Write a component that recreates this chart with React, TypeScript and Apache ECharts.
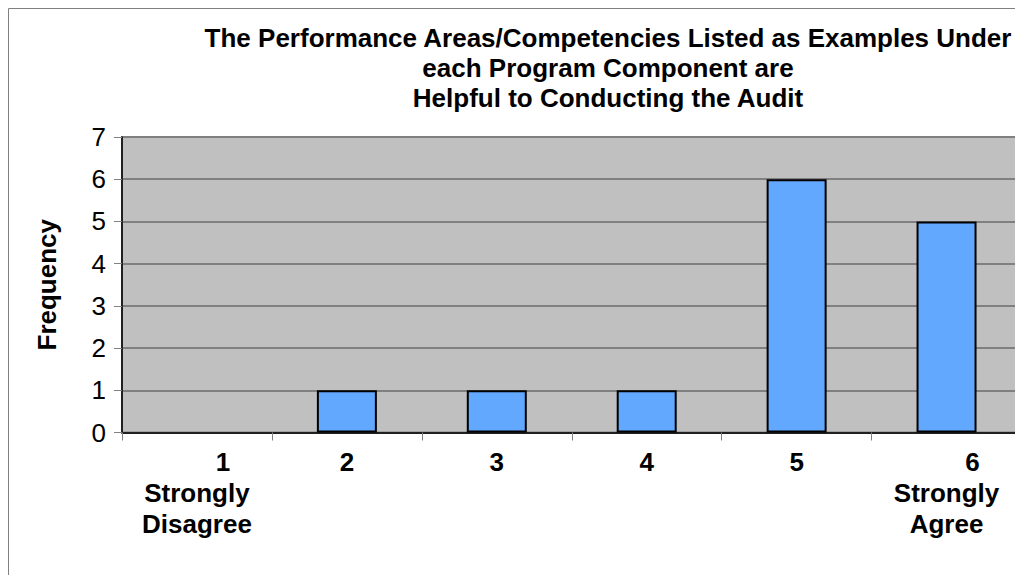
import React, { useEffect, useRef } from "react";
import * as echarts from "echarts";

const categories = ["1", "2", "3", "4", "5", "6"];
const subLabels = ["Strongly\nDisagree", "", "", "", "", "Strongly\nAgree"];
const frequency = [0, 1, 1, 1, 6, 5];
const titleLines = [
  "The Performance Areas/Competencies Listed as Examples Under",
  "each Program Component are",
  "Helpful to Conducting the Audit",
];
const yAxisName = "Frequency";

const FONT = "'Liberation Sans', Arial, sans-serif";

export default function App() {
  const ref = useRef<HTMLDivElement>(null);
  useEffect(() => {
    if (!ref.current) return;
    const chart = echarts.init(ref.current, undefined, { renderer: "svg" });
    chart.setOption({
      animation: false,
      backgroundColor: "#ffffff",
      textStyle: { fontFamily: FONT },
      title: {
        text: titleLines.join("\n"),
        left: 600,
        top: 15,
        textAlign: "center",
        padding: 0,
        textStyle: {
          fontFamily: FONT,
          fontWeight: "bold",
          fontSize: 26,
          lineHeight: 30,
          color: "#000",
        },
      },
      graphic: [
        {
          type: "rect",
          shape: { x: 0.5, y: 0.5, width: 1200, height: 800 },
          style: { fill: "none", stroke: "#808080", lineWidth: 1 },
          silent: true,
          z: 100,
        },
      ],
      grid: {
        left: 114,
        top: 129,
        right: 1.5,
        bottom: 142.5,
        show: true,
        backgroundColor: "#C0C0C0",
        borderColor: "#808080",
        borderWidth: 2,
      },
      xAxis: {
        type: "category",
        data: categories,
        boundaryGap: true,
        axisLine: { show: true, lineStyle: { color: "#000", width: 1.5 } },
        axisTick: {
          show: true,
          alignWithLabel: false,
          length: 8,
          lineStyle: { color: "#808080", width: 1 },
        },
        axisLabel: {
          margin: 14,
          interval: 0,
          formatter: (v: string, i: number) => {
            const sub = subLabels[i];
            const head = sub ? `{off|${v}}` : `{num|${v}}`;
            if (!sub) return head;
            return head + "\n" + sub.split("\n").map((s) => `{txt|${s}}`).join("\n");
          },
          rich: {
            num: { fontFamily: FONT, fontWeight: "bold", fontSize: 26, lineHeight: 31, color: "#000" },
            off: {
              fontFamily: FONT,
              fontWeight: "bold",
              fontSize: 26,
              lineHeight: 31,
              color: "#000",
              padding: [0, 0, 0, 52],
            },
            txt: { fontFamily: FONT, fontWeight: "bold", fontSize: 26, lineHeight: 31, color: "#000" },
          },
        },
        splitLine: { show: false },
      },
      yAxis: {
        type: "value",
        min: 0,
        max: 7,
        interval: 1,
        name: yAxisName,
        nameLocation: "middle",
        nameGap: 62,
        nameRotate: 90,
        nameTextStyle: { fontFamily: FONT, fontWeight: "bold", fontSize: 26, color: "#000" },
        axisLine: { show: true, lineStyle: { color: "#000", width: 1.5 } },
        axisTick: { show: true, length: 8, lineStyle: { color: "#808080", width: 1 } },
        axisLabel: { margin: 16, fontFamily: FONT, fontSize: 26, color: "#000" },
        splitLine: { show: true, lineStyle: { color: "#808080", width: 2 } },
      },
      series: [
        {
          type: "bar",
          data: frequency.map((v) =>
            v === 0 ? { value: v, itemStyle: { borderWidth: 0 } } : v
          ),
          barWidth: 60,
          itemStyle: { color: "#63A8FF", borderColor: "#000", borderWidth: 2 },
        },
      ],
    });
    return () => chart.dispose();
  }, []);
  return <div ref={ref} style={{ width: 1015, height: 567 }} />;
}
